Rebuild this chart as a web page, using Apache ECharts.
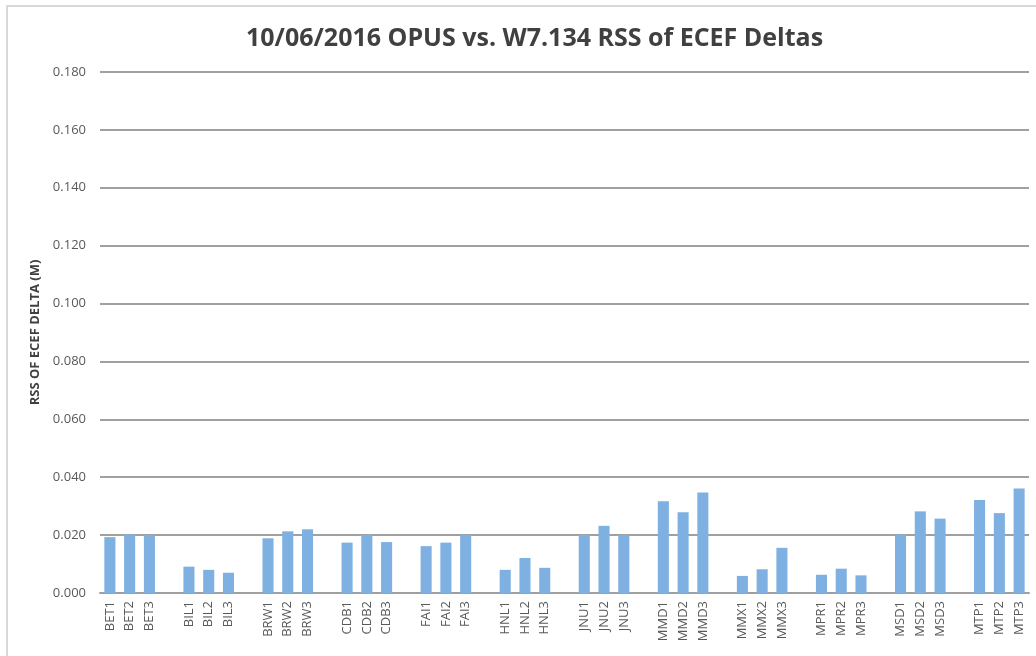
<!DOCTYPE html>
<html>
<head>
<meta charset="utf-8">
<script src="https://cdn.jsdelivr.net/npm/echarts@6/dist/echarts.min.js"></script>
<style>
  html, body { margin: 0; padding: 0; background: #fff; }
  #frame { position: absolute; left: 6px; top: 5px; width: 1040px; height: 660px; border-left: 2px solid #d9d9d9; border-top: 2px solid #d9d9d9; box-sizing: border-box; }
  #chart { position: absolute; left: 0; top: 0; width: 1036px; height: 656px; }
</style>
</head>
<body>
<div id="frame"></div>
<div id="chart"></div>
<script>
// Stations, three sessions each; empty strings space the station groups apart
const categories = [
  'BET1', 'BET2', 'BET3', '',
  'BIL1', 'BIL2', 'BIL3', '',
  'BRW1', 'BRW2', 'BRW3', '',
  'CDB1', 'CDB2', 'CDB3', '',
  'FAI1', 'FAI2', 'FAI3', '',
  'HNL1', 'HNL2', 'HNL3', '',
  'JNU1', 'JNU2', 'JNU3', '',
  'MMD1', 'MMD2', 'MMD3', '',
  'MMX1', 'MMX2', 'MMX3', '',
  'MPR1', 'MPR2', 'MPR3', '',
  'MSD1', 'MSD2', 'MSD3', '',
  'MTP1', 'MTP2', 'MTP3'
];

// RSS of ECEF deltas in metres (null for the spacer slots)
const rssValues = [
  0.0193, 0.0202, 0.0200, null,
  0.0091, 0.0080, 0.0070, null,
  0.0189, 0.0213, 0.0220, null,
  0.0174, 0.0201, 0.0176, null,
  0.0162, 0.0174, 0.0201, null,
  0.0080, 0.0121, 0.0087, null,
  0.0201, 0.0232, 0.0200, null,
  0.0317, 0.0279, 0.0347, null,
  0.0059, 0.0082, 0.0156, null,
  0.0063, 0.0084, 0.0061, null,
  0.0202, 0.0282, 0.0257, null,
  0.0321, 0.0276, 0.0361
];

const yTicks = { min: 0, max: 0.18, interval: 0.02 };

const chart = echarts.init(document.getElementById('chart'), null, { renderer: 'canvas' });
chart.setOption({
  animation: false,
  title: {
    text: '10/06/2016 OPUS vs. W7.134 RSS of ECEF Deltas',
    left: 241,
    top: 21,
    textStyle: {
      fontFamily: 'Open Sans',
      fontWeight: 'bold',
      fontSize: 25,
      color: '#404040'
    }
  },
  grid: { left: 100, right: 7, top: 72, bottom: 63, containLabel: false },
  xAxis: {
    type: 'category',
    data: categories,
    axisLine: { show: true, lineStyle: { color: '#a0a0a0', width: 2 } },
    axisTick: { show: false },
    axisLabel: {
      interval: 0,
      rotate: 90,
      margin: 8,
      fontFamily: 'Open Sans',
      fontSize: 13,
      color: '#595959'
    }
  },
  yAxis: {
    type: 'value',
    min: yTicks.min,
    max: yTicks.max,
    interval: yTicks.interval,
    name: 'RSS OF ECEF DELTA (M)',
    nameLocation: 'middle',
    nameGap: 56,
    nameRotate: 90,
    nameTextStyle: {
      fontFamily: 'Open Sans',
      fontWeight: 'bold',
      fontSize: 13,
      color: '#404040'
    },
    axisLine: { show: false },
    axisTick: { show: false },
    axisLabel: {
      margin: 14,
      fontFamily: 'Open Sans',
      fontSize: 13,
      color: '#595959',
      formatter: v => v.toFixed(3)
    },
    splitLine: { lineStyle: { color: '#a0a0a0', width: 2 } }
  },
  series: [{
    type: 'bar',
    data: rssValues,
    barWidth: '56%',
    itemStyle: { color: '#7eb0e2' }
  }]
});
</script>
</body>
</html>
